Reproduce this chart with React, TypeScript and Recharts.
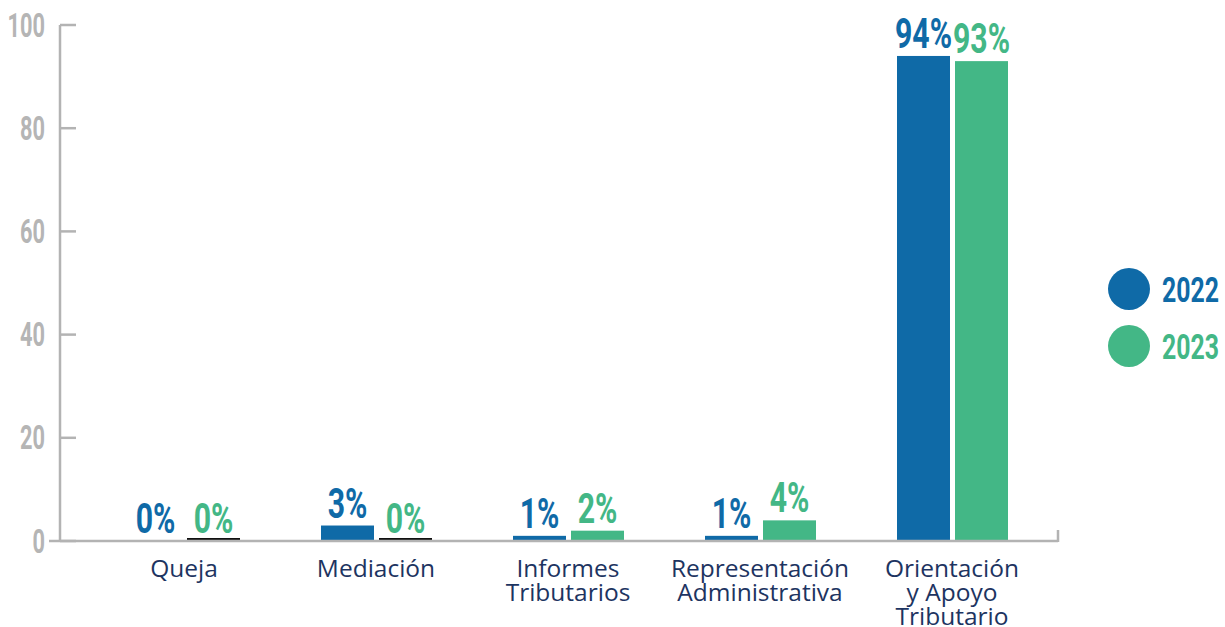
import React from 'react'
import * as R from 'recharts'
import { BarChart, Bar, XAxis, YAxis, LabelList } from 'recharts'

const CATEGORIAS = ['Queja', 'Mediación', 'Informes\nTributarios', 'Representación\nAdministrativa', 'Orientación\ny Apoyo\nTributario']
const V2022 = [0, 3, 1, 1, 94]
const V2023 = [0, 0, 2, 4, 93]
const Y_TICKS = [0, 20, 40, 60, 80, 100]
const SERIES = [
  { key: 'y2022', name: '2022', color: '#0f6aa7' },
  { key: 'y2023', name: '2023', color: '#43b786' },
]

const data = CATEGORIAS.map((c, i) => ({ name: c, y2022: V2022[i], y2023: V2023[i] }))

const GRIS = '#b3b3b3'
const NAVY = '#1d3461'
const COND = 'Roboto, "DejaVu Sans", sans-serif'

function YTick(props: any) {
  const { x, y, payload } = props
  return (
    <g>
      <line x1={payload.value === 0 ? x + 4 : x + 15} x2={x + 31} y1={y} y2={y} stroke={GRIS} strokeWidth={2.5} />
      <g transform={`translate(${x},${y}) scale(0.66,1)`}>
        <text x={0} y={0} dy={11.5} textAnchor="end" fontFamily={COND} fontWeight={700} fontSize={33} fill="#b5b5b5">
          {payload.value}
        </text>
      </g>
    </g>
  )
}

function XTick(props: any) {
  const { x, y, payload } = props
  const lines = String(payload.value).split('\n')
  return (
    <text x={x} y={y + 36} textAnchor="middle" fontFamily='"Open Sans", sans-serif' fontSize={24.5} fill={NAVY}>
      {lines.map((l, i) => (
        <tspan key={i} x={x} dy={i === 0 ? 0 : 24}>{l}</tspan>
      ))}
    </text>
  )
}

function makeLabel(color: string) {
  return (props: any) => {
    const { x, y, width, height, value } = props
    const cx = x + width / 2
    // las barras en cero llevan una altura mínima solo para dibujarse; la etiqueta va sobre el eje
    const top = value === 0 ? y + height : y
    return (
      <g transform={`translate(${cx},${top - 8}) scale(0.72,1)`}>
        <text x={0} y={0} textAnchor="middle" fontFamily={COND} fontWeight={700} fontSize={42} fill={color}>
          {value}%
        </text>
      </g>
    )
  }
}

// en 2023 los ceros se ven como una línea negra sobre el eje; en 2022 no se ven
function makeShape(zeroColor: string | null) {
  return (props: any) => {
    const { x, y, width, height, fill, value } = props
    const v = Array.isArray(value) ? value[1] - value[0] : value
    if (v === 0) {
      if (!zeroColor) return <g />
      return <rect x={x} y={y + height - 3} width={width} height={2.5} fill={zeroColor} />
    }
    return <rect x={x} y={y} width={width} height={height} fill={fill} />
  }
}

const minZero = (value: any) => (value === 0 ? 2 : 0)

function RightTick() {
  const usePlotArea = (R as any).usePlotArea
  const area = usePlotArea ? usePlotArea() : null
  if (!area) return null
  const xr = area.x + area.width
  const yb = area.y + area.height
  return <line x1={xr} x2={xr} y1={yb - 11} y2={yb + 1} stroke={GRIS} strokeWidth={2.5} />
}

function Leyenda() {
  return (
    <div style={{ position: 'absolute', left: 1107, top: 267 }}>
      {SERIES.map((s, i) => (
        <svg key={s.key} width={118} height={46} style={{ display: 'block', marginBottom: i === 0 ? 11 : 0 }}>
          <circle cx={22} cy={22} r={21} fill={s.color} />
          <g transform="translate(55,34.5) scale(0.71,1)">
            <text x={0} y={0} fontFamily={COND} fontWeight={700} fontSize={35} fill={s.color}>{s.name}</text>
          </g>
        </svg>
      ))}
    </div>
  )
}

export default function App() {
  return (
    <div style={{ position: 'absolute', left: 0, top: 0, width: 1225, height: 627, background: '#fff' }}>
      <BarChart width={1225} height={627} data={data} margin={{ top: 25, right: 167, bottom: 0, left: 0 }}
        barSize={53} barGap={5}>
        <XAxis dataKey="name" interval={0} height={86} padding={{ left: 28, right: 10 }}
          axisLine={{ stroke: GRIS, strokeWidth: 2.5 }} tickLine={false} tickSize={0} tickMargin={0}
          tick={<XTick />} />
        <YAxis domain={[0, 100]} ticks={Y_TICKS} width={60} axisLine={{ stroke: GRIS, strokeWidth: 2.5 }}
          tickLine={false} tickSize={0} tickMargin={15} tick={<YTick />} />
        <Bar dataKey="y2022" name="2022" fill={SERIES[0].color} isAnimationActive={false}
          minPointSize={minZero} shape={makeShape(null)}>
          <LabelList dataKey="y2022" content={makeLabel(SERIES[0].color)} />
        </Bar>
        <Bar dataKey="y2023" name="2023" fill={SERIES[1].color} isAnimationActive={false}
          minPointSize={minZero} shape={makeShape('#111')}>
          <LabelList dataKey="y2023" content={makeLabel(SERIES[1].color)} />
        </Bar>
        <RightTick />
      </BarChart>
      <Leyenda />
    </div>
  )
}
